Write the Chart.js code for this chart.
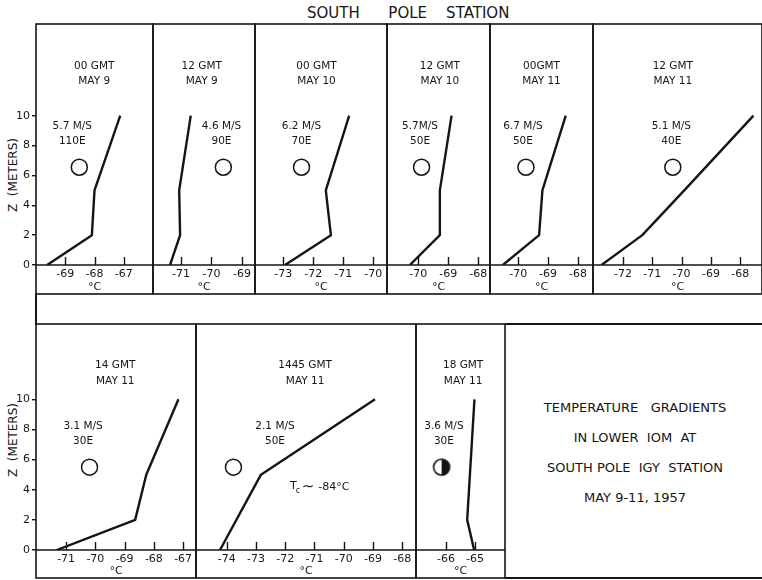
<!DOCTYPE html>
<html><head><meta charset="utf-8">
<script src="https://cdn.jsdelivr.net/npm/chart.js@4.4.1/dist/chart.umd.min.js"></script>
<style>
html,body{margin:0;padding:0;background:#fff;width:762px;height:580px;overflow:hidden;}
#wrap{position:relative;width:762px;height:580px;overflow:hidden;}
canvas{position:absolute;}
.txt{position:absolute;font-family:"DejaVu Sans",sans-serif;color:#151515;white-space:pre;}
.rot{transform:translate(-50%,-50%) rotate(-90deg);font-size:12px;}
.box{text-align:center;font-size:13px;left:505px;width:260px;transform:translateY(-50%);}
</style></head><body><div id="wrap">
<div class="txt" style="left:307px;top:4px;font-size:15px;">SOUTH      POLE    STATION</div>
<div class="txt rot" style="left:13px;top:175px;">Z  (METERS)</div>
<div class="txt rot" style="left:13px;top:440px;">Z  (METERS)</div>
<div style="position:absolute;left:35px;top:293px;width:2px;height:32px;background:#151515;"></div>
<div style="position:absolute;left:505px;top:323px;width:260px;height:256px;box-sizing:border-box;border-top:2px solid #151515;border-bottom:2px solid #151515;"></div>
<div class="txt box" style="top:407px;">TEMPERATURE   GRADIENTS</div>
<div class="txt box" style="top:437px;">IN LOWER  IOM  AT</div>
<div class="txt box" style="top:467px;">SOUTH POLE  IGY  STATION</div>
<div class="txt box" style="top:497px;">MAY 9-11, 1957</div>
</div>
<script>
// ---------------- data ----------------
const zTicks = [0, 2, 4, 6, 8, 10];

const titles = [["00 GMT","MAY 9"],["12 GMT","MAY 9"],["00 GMT","MAY 10"],["12 GMT","MAY 10"],["00GMT","MAY 11"],["12 GMT","MAY 11"],["14 GMT","MAY 11"],["1445 GMT","MAY 11"],["18 GMT","MAY 11"]];
const winds  = [["5.7 M/S","110E"],["4.6 M/S","90E"],["6.2 M/S","70E"],["5.7M/S","50E"],["6.7 M/S","50E"],["5.1 M/S","40E"],["3.1 M/S","30E"],["2.1 M/S","50E"],["3.6 M/S","30E"]];

// temperature profiles (°C) at heights (m)
const z_p1 = [0, 2, 5, 10];  const t_p1 = [-69.62, -68.09, -68.00, -67.12];
const z_p2 = [0, 2, 5, 10];  const t_p2 = [-71.36, -71.03, -71.06, -70.68];
const z_p3 = [0, 2, 5, 10];  const t_p3 = [-72.94, -71.41, -71.58, -70.80];
const z_p4 = [0, 2, 5, 10];  const t_p4 = [-70.28, -69.28, -69.28, -68.89];
const z_p5 = [0, 2, 5, 10];  const t_p5 = [-70.51, -69.30, -69.19, -68.41];
const z_p6 = [0, 2, 5, 10];  const t_p6 = [-72.73, -71.34, -69.91, -67.55];
const z_p7 = [0, 2, 5, 10];  const t_p7 = [-71.32, -68.64, -68.26, -67.16];
const z_p8 = [0, 5, 10];     const t_p8 = [-74.23, -72.83, -68.93];
const z_p9 = [0, 2, 10];     const t_p9 = [-65.03, -65.27, -65.02];

// x tick labels per panel
const ticks_p1 = [-69, -68, -67];
const ticks_p2 = [-71, -70, -69];
const ticks_p3 = [-73, -72, -71, -70];
const ticks_p4 = [-70, -69, -68];
const ticks_p5 = [-70, -69, -68];
const ticks_p6 = [-72, -71, -70, -69, -68];
const ticks_p7 = [-71, -70, -69, -68, -67];
const ticks_p8 = [-74, -73, -72, -71, -70, -69, -68];
const ticks_p9 = [-66, -65];

// x-axis extents per panel (°C)
const xMin = [-70.00, -71.92, -73.94, -71.04, -70.94, -73.02, -72.03, -75.05, -67.03];
const xMax = [-66.00, -68.57, -69.54, -67.61, -67.50, -67.26, -66.56, -67.53, -63.97];

// sky-cover symbol (temperature position), title & wind label positions (°C)
const skyX   = [-68.52, -69.61, -72.39, -69.89, -69.74, -70.30, -70.20, -73.77, -66.15];
const titleX = [-68.01, -70.32, -71.89, -69.28, -69.22, -70.30, -69.32, -71.32, -65.41];
const windX  = [-68.76, -69.67, -72.39, -69.94, -69.84, -70.35, -70.42, -72.35, -66.07];
const tcNote = {x: -71.84, z: 4.18, text: "-84°C"};

// ---------------- layout ----------------
const INK = '#151515';
const FONT = '"DejaVu Sans", sans-serif';
const rows = [
  {top:24,  base:265, bottom:294, yMax:16.14, titleZ:[13.33,12.32], windZ:[9.26,8.26], skyZ:6.55, edges:[36,153,255,387,490,593,762]},
  {top:324, base:550, bottom:578, yMax:15.00, titleZ:[12.28,11.21], windZ:[8.18,7.19], skyZ:5.50, edges:[36,196,416,505]}
];
const profT = [t_p1,t_p2,t_p3,t_p4,t_p5,t_p6,t_p7,t_p8,t_p9];
const profZ = [z_p1,z_p2,z_p3,z_p4,z_p5,z_p6,z_p7,z_p8,z_p9];
const tickSets = [ticks_p1,ticks_p2,ticks_p3,ticks_p4,ticks_p5,ticks_p6,ticks_p7,ticks_p8,ticks_p9];

// half-filled circle symbol
const half = document.createElement('canvas');
half.width = 20; half.height = 20;
(function(){
  const c = half.getContext('2d');
  c.fillStyle = '#fff'; c.beginPath(); c.arc(10,10,8,0,Math.PI*2); c.fill();
  c.fillStyle = INK; c.beginPath(); c.moveTo(10,2); c.arc(10,10,8,-Math.PI/2,Math.PI/2); c.closePath(); c.fill();
  c.strokeStyle = INK; c.lineWidth = 1.6; c.beginPath(); c.arc(10,10,8,0,Math.PI*2); c.stroke();
})();

const wrap = document.getElementById('wrap');

function panel(i) {
  const r = i < 6 ? 0 : 1;
  const row = rows[r];
  const k = r === 0 ? i : i - 6;
  const L = row.edges[k], R = row.edges[k+1];
  const hasY = k === 0;
  const left = hasY ? 0 : L - 2;
  const top = row.top - 2;
  const W = R + 2 - left, H = row.bottom + 2 - top;
  const cv = document.createElement('canvas');
  cv.width = W; cv.height = H;
  cv.style.left = left + 'px'; cv.style.top = top + 'px';
  cv.style.width = W + 'px'; cv.style.height = H + 'px';
  wrap.appendChild(cv);
  const axisH = row.bottom - row.base;

  const deco = {
    id: 'deco' + i,
    afterDraw(chart) {
      const {ctx, chartArea: a, scales: {x, y}} = chart;
      ctx.save();
      ctx.strokeStyle = INK; ctx.lineWidth = 1.6;
      ctx.strokeRect(a.left, a.top, a.right - a.left, x.bottom - a.top);
      ctx.beginPath(); ctx.moveTo(a.left, a.bottom); ctx.lineTo(a.right, a.bottom); ctx.stroke();
      ctx.lineWidth = 1.4;
      ctx.beginPath();
      x.ticks.forEach(t => { const px = Math.round(x.getPixelForValue(t.value)) + 0.5; ctx.moveTo(px, a.bottom); ctx.lineTo(px, a.bottom - 8); });
      ctx.stroke();
      ctx.fillStyle = INK; ctx.textAlign = 'center'; ctx.textBaseline = 'middle';
      ctx.font = '10.5px ' + FONT;
      titles[i].forEach((s, j) => ctx.fillText(s, x.getPixelForValue(titleX[i]), y.getPixelForValue(row.titleZ[j])));
      winds[i].forEach((s, j) => ctx.fillText(s, x.getPixelForValue(windX[i]), y.getPixelForValue(row.windZ[j])));
      if (i === 7) {
        let px = x.getPixelForValue(tcNote.x), py = y.getPixelForValue(tcNote.z);
        ctx.textAlign = 'left';
        ctx.font = '11px ' + FONT; ctx.fillText('T', px, py - 1); px += ctx.measureText('T').width;
        ctx.font = '8px ' + FONT; ctx.fillText('c', px - 1, py + 4); px += 5;
        ctx.font = '15px ' + FONT; ctx.fillText('∼', px, py); px += ctx.measureText('∼').width + 4;
        ctx.font = '11px ' + FONT; ctx.fillText(tcNote.text, px, py);
      }
      ctx.restore();
    }
  };

  return new Chart(cv, {
    type: 'scatter',
    data: { datasets: [
      { data: profT[i].map((t, j) => ({x: t, y: profZ[i][j]})), showLine: true, borderColor: INK, borderWidth: 2.4,
        pointRadius: 0, fill: false, tension: 0, borderJoinStyle: 'round' },
      { data: [{x: skyX[i], y: row.skyZ}], showLine: false, pointStyle: i === 8 ? half : 'circle', pointRadius: 8,
        pointBorderWidth: 1.5, pointBorderColor: INK, pointBackgroundColor: '#fff' }
    ]},
    options: {
      responsive: false, animation: false, events: [], devicePixelRatio: 1,
      layout: { padding: {left: hasY ? 0 : 2, right: 2, top: 2, bottom: 2}, autoPadding: false },
      plugins: { legend: {display: false}, tooltip: {enabled: false}, title: {display: false} },
      scales: {
        x: {
          type: 'linear', min: xMin[i], max: xMax[i], bounds: 'data',
          afterBuildTicks: s => { s.ticks = tickSets[i].map(v => ({value: v})); },
          ticks: { font: {family: FONT, size: 11}, color: INK, padding: 3, autoSkip: false, maxRotation: 0, minRotation: 0,
                   callback: v => String(v) },
          grid: { display: false, drawTicks: false },
          border: { display: false },
          title: { display: true, text: '°C', color: INK, font: {family: FONT, size: 11}, padding: {top: 0, bottom: 0} },
          afterFit: s => { s.height = axisH; s.paddingLeft = 0; s.paddingRight = 0; }
        },
        y: {
          type: 'linear', min: 0, max: row.yMax, bounds: 'data', display: hasY,
          afterBuildTicks: s => { s.ticks = zTicks.map(v => ({value: v})); },
          ticks: { font: {family: FONT, size: 11}, color: INK, padding: 2 },
          grid: { display: true, drawOnChartArea: false, drawTicks: true, tickLength: 4, color: INK, lineWidth: 1.4 },
          border: { display: false },
          afterFit: s => { s.width = hasY ? 36 : 0; s.paddingTop = 0; s.paddingBottom = 0; }
        }
      }
    },
    plugins: [deco]
  });
}

for (let i = 0; i < 9; i++) panel(i);
</script>
</body></html>
